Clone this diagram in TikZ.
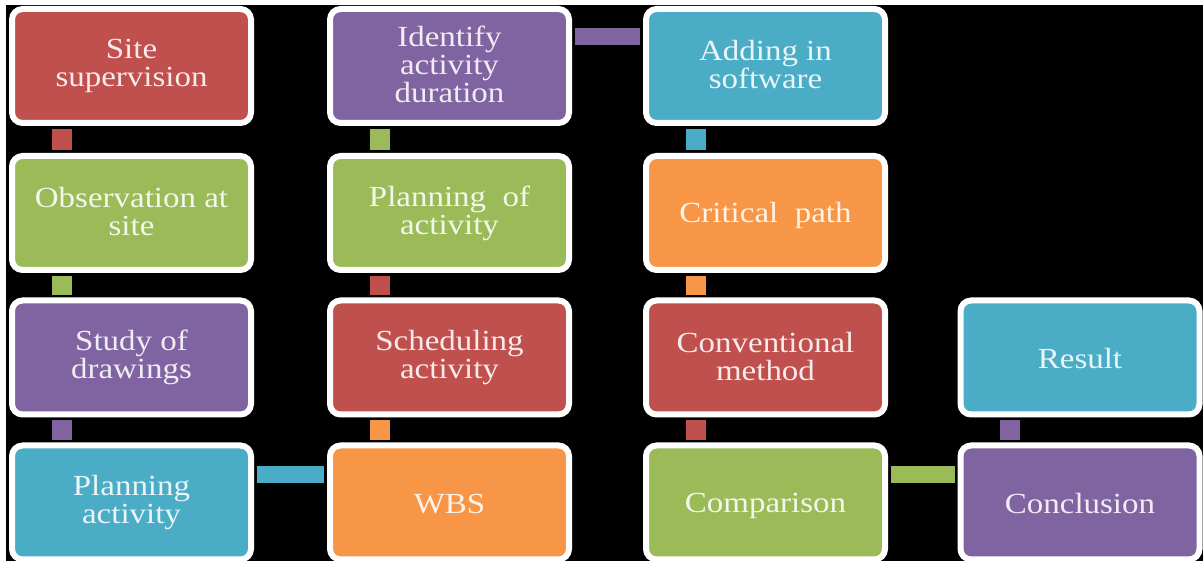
\documentclass[tikz,border=0pt]{standalone}
\usepackage{fontspec}
\setmainfont{Liberation Serif}[FakeStretch=1.13]

\definecolor{cred}{RGB}{192,80,77}
\definecolor{cgreen}{RGB}{155,187,89}
\definecolor{cpurple}{RGB}{128,100,162}
\definecolor{cblue}{RGB}{75,172,198}
\definecolor{corange}{RGB}{247,150,70}

\tikzset{
  stage/.style={draw=white, line width=0.06cm, rounded corners=3pt, fill=#1,
    text=#1!12!white, minimum width=2.39cm, minimum height=1.14cm,
    align=center, inner sep=0pt, font=\fontsize{8.3}{8}\selectfont,
    execute at begin node={\rule{0pt}{7.2pt}},
    execute at end node={\rule[-0.8pt]{0pt}{0.8pt}}},
  link/.style={draw=#1, line width=0.2cm, shorten <=0.8pt, shorten >=0.8pt},
  hlink/.style={link=#1, line width=0.17cm}
}

\begin{document}
\begin{tikzpicture}
      \useasboundingbox (0,0) rectangle (12.03,-5.63);
      \fill[black] (0.06,-0.05) rectangle (12.03,-5.61);

      % first column
      \node[stage=cred] (site) at (1.315,-0.66) {Site\\supervision};
      \node[stage=cgreen] (obs) at (1.315,-2.13) {Observation at\\site};
      \node[stage=cpurple] (study) at (1.315,-3.575) {Study of\\drawings};
      \node[stage=cblue] (planact) at (1.315,-5.025) {Planning\\activity};

      % second column
      \node[stage=corange] (wbs) at (4.495,-5.025) {WBS};
      \node[stage=cred] (sched) at (4.495,-3.575) {Scheduling\\activity};
      \node[stage=cgreen] (planof) at (4.495,-2.13) {Planning\ \ of\\activity};
      \node[stage=cpurple] (ident) at (4.495,-0.66) {Identify\\activity\\duration};

      % third column
      \node[stage=cblue] (soft) at (7.655,-0.66) {Adding in\\software};
      \node[stage=corange] (crit) at (7.655,-2.13) {Critical\ \ path};
      \node[stage=cred] (conv) at (7.655,-3.575) {Conventional\\method};
      \node[stage=cgreen] (comp) at (7.655,-5.025) {Comparison};

      % fourth column
      \node[stage=cpurple] (concl) at (10.80,-5.025) {Conclusion};
      \node[stage=cblue] (result) at (10.80,-3.575) {Result};

      % connectors
      \draw[link=cred] ([xshift=-7mm]site.south) -- ([xshift=-7mm]obs.north);
      \draw[link=cgreen] ([xshift=-7mm]obs.south) -- ([xshift=-7mm]study.north);
      \draw[link=cpurple] ([xshift=-7mm]study.south) -- ([xshift=-7mm]planact.north);
      \draw[hlink=cblue] ([yshift=2.8mm]planact.east) -- ([yshift=2.8mm]wbs.west);
      \draw[link=corange] ([xshift=-7mm]wbs.north) -- ([xshift=-7mm]sched.south);
      \draw[link=cred] ([xshift=-7mm]sched.north) -- ([xshift=-7mm]planof.south);
      \draw[link=cgreen] ([xshift=-7mm]planof.north) -- ([xshift=-7mm]ident.south);
      \draw[hlink=cpurple] ([yshift=2.9mm]ident.east) -- ([yshift=2.9mm]soft.west);
      \draw[link=cblue] ([xshift=-7mm]soft.south) -- ([xshift=-7mm]crit.north);
      \draw[link=corange] ([xshift=-7mm]crit.south) -- ([xshift=-7mm]conv.north);
      \draw[link=cred] ([xshift=-7mm]conv.south) -- ([xshift=-7mm]comp.north);
      \draw[hlink=cgreen] ([yshift=2.8mm]comp.east) -- ([yshift=2.8mm]concl.west);
      \draw[link=cpurple] ([xshift=-7mm]concl.north) -- ([xshift=-7mm]result.south);
\end{tikzpicture}
\end{document}
